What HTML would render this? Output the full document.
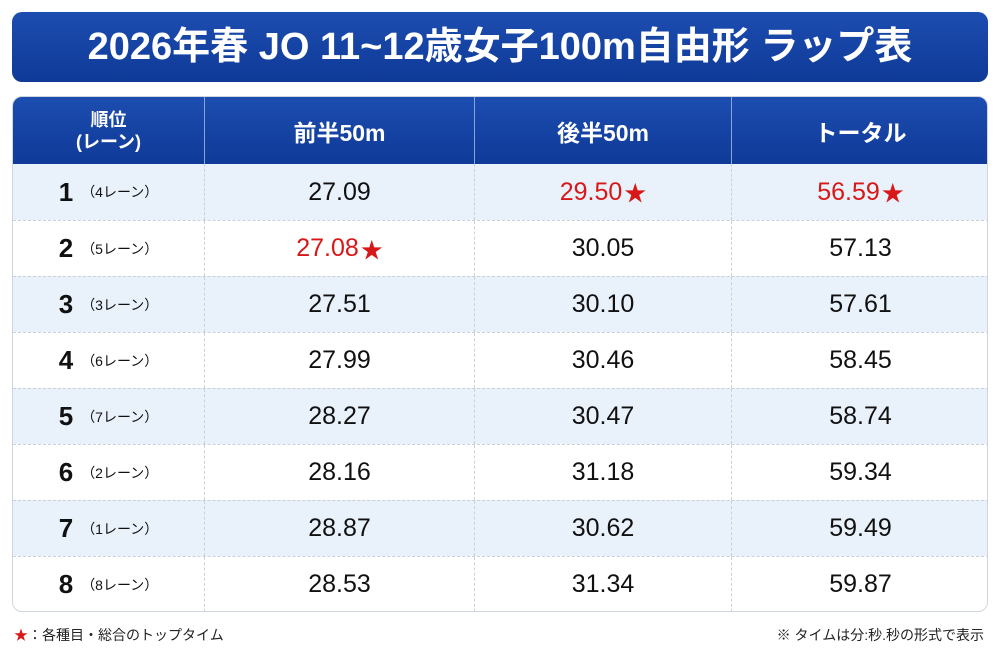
<!DOCTYPE html>
<html><head><meta charset="utf-8"><style>
*{margin:0;padding:0;box-sizing:border-box}
body{width:1000px;height:667px;background:#fff;font-family:"Liberation Sans","Noto Sans CJK JP",sans-serif;position:relative;overflow:hidden}
.title{position:absolute;left:12px;top:12px;width:976px;height:70px;border-radius:10px;background:linear-gradient(#1c4db0,#0f3a98);color:#fff;font-weight:bold;font-size:38px;text-align:center;line-height:70px}
.tbl{position:absolute;left:12px;top:96px;width:976px;height:516px;border-radius:10px;overflow:hidden;border:1px solid #d0d6e0}
.row{position:absolute;left:0;width:976px;height:56px;display:flex;border-top:1px dashed #c8d0dc}
.row.o{background:#e9f1fb}
.c{height:100%;display:flex;align-items:center;justify-content:center;font-size:25px;color:#111;border-left:1px dashed #c8d0dc;white-space:nowrap}
.c1{width:191px;border-left:none;font-weight:bold;font-size:26px}
.c2{width:270px}.c3{width:257px}.c4{flex:1}
.c1 small{font-weight:normal;font-size:14px;margin-left:8px}
.hd{position:absolute;left:0;top:0;width:976px;height:67px;display:flex;background:linear-gradient(#1c4db0,#0f3a98)}
.hd .c{color:#fff;font-weight:bold;font-size:23px;border-left:1px solid #8aa3d8;text-align:center}
.hd .c1{border-left:none;font-size:18px;line-height:22px}
.s{font-size:22px;margin-left:2px}
.r{color:#d81818}
.foot{position:absolute;top:625px;font-size:14px;color:#222}
</style></head><body>
<div class="title">2026年春 JO 11~12歳女子100m自由形 ラップ表</div>
<div class="tbl">
<div class="hd"><div class="c c1">順位<br>(レーン)</div><div class="c c2">前半50m</div><div class="c c3">後半50m</div><div class="c c4">トータル</div></div>
<div class="row o" style="top:67px;border-top:none"><div class="c c1">1<small>（4レーン）</small></div><div class="c c2">27.09</div><div class="c c3 r">29.50<span class="s">★</span></div><div class="c c4 r">56.59<span class="s">★</span></div></div>
<div class="row" style="top:123px"><div class="c c1">2<small>（5レーン）</small></div><div class="c c2 r">27.08<span class="s">★</span></div><div class="c c3">30.05</div><div class="c c4">57.13</div></div>
<div class="row o" style="top:179px"><div class="c c1">3<small>（3レーン）</small></div><div class="c c2">27.51</div><div class="c c3">30.10</div><div class="c c4">57.61</div></div>
<div class="row" style="top:235px"><div class="c c1">4<small>（6レーン）</small></div><div class="c c2">27.99</div><div class="c c3">30.46</div><div class="c c4">58.45</div></div>
<div class="row o" style="top:291px"><div class="c c1">5<small>（7レーン）</small></div><div class="c c2">28.27</div><div class="c c3">30.47</div><div class="c c4">58.74</div></div>
<div class="row" style="top:347px"><div class="c c1">6<small>（2レーン）</small></div><div class="c c2">28.16</div><div class="c c3">31.18</div><div class="c c4">59.34</div></div>
<div class="row o" style="top:403px"><div class="c c1">7<small>（1レーン）</small></div><div class="c c2">28.87</div><div class="c c3">30.62</div><div class="c c4">59.49</div></div>
<div class="row" style="top:459px"><div class="c c1">8<small>（8レーン）</small></div><div class="c c2">28.53</div><div class="c c3">31.34</div><div class="c c4">59.87</div></div>
</div>
<div class="foot" style="left:14px"><span class="r">★</span>：各種目・総合のトップタイム</div>
<div class="foot" style="right:16px">※ タイムは分:秒.秒の形式で表示</div>
</body></html>
